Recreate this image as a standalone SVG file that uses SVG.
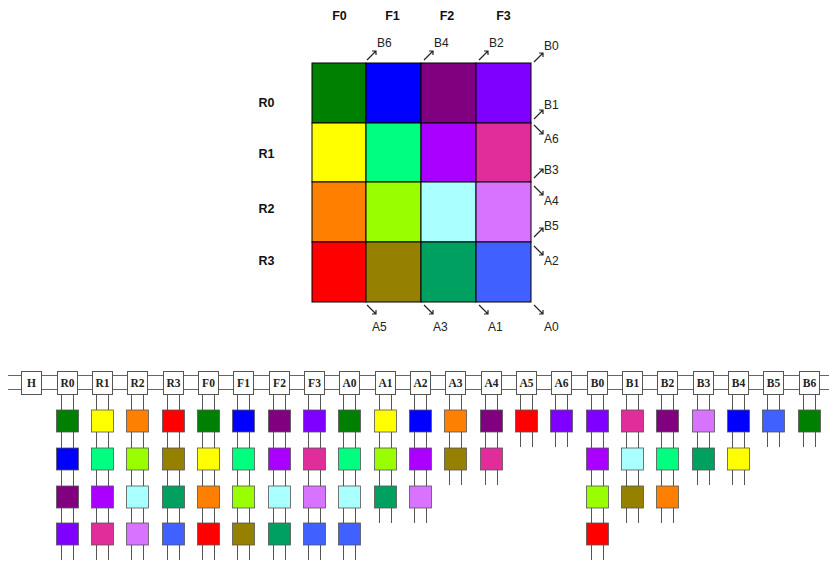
<svg xmlns="http://www.w3.org/2000/svg" xmlns:xlink="http://www.w3.org/1999/xlink" width="829" height="563" viewBox="0 0 829 563">
<style>
.bg{fill:#ffffff}
.cell{stroke:#000;stroke-width:1}
.hd{font-family:"Liberation Sans",Arial,sans-serif;font-weight:bold;font-size:12.5px;fill:#111;text-anchor:middle}
.lb{font-family:"Liberation Sans",Arial,sans-serif;font-size:12px;fill:#222}
.arr{fill:none;stroke:#222;stroke-width:1.2}
.bus{stroke:#666;stroke-width:1;fill:none}
.leg{stroke:#555;stroke-width:1;fill:none}
.box{fill:#fff;stroke:#555;stroke-width:1}
.bt{font-family:"Liberation Serif","Times New Roman",serif;font-weight:bold;font-size:11.5px;fill:#222;text-anchor:middle}
.sq{stroke:#555;stroke-width:0.8}
.g{fill:#008000}.b{fill:#0000ff}.p{fill:#800080}.v{fill:#8000ff}
.y{fill:#ffff00}.sg{fill:#00ff80}.v2{fill:#aa00ff}.pk{fill:#e02d9a}
.o{fill:#ff8000}.l{fill:#99ff00}.lc{fill:#aaffff}.lv{fill:#d873ff}
.r{fill:#ff0000}.ol{fill:#968000}.tg{fill:#00a060}.rb{fill:#4060ff}
</style>
<defs>
<path id="ne" class="arr" d="M0,9 L9,0 M5,0 H9 V4"/>
<path id="se" class="arr" d="M0,0 L9,9 M5,9 H9 V5"/>
</defs>
<rect class="bg" x="0" y="0" width="829" height="563"/>

<g id="matrix">
<rect class="cell g" x="312" y="63" width="54" height="60"/>
<rect class="cell b" x="366" y="63" width="55" height="60"/>
<rect class="cell p" x="421" y="63" width="55" height="60"/>
<rect class="cell v" x="476" y="63" width="55" height="60"/>
<rect class="cell y" x="312" y="123" width="54" height="59"/>
<rect class="cell sg" x="366" y="123" width="55" height="59"/>
<rect class="cell v2" x="421" y="123" width="55" height="59"/>
<rect class="cell pk" x="476" y="123" width="55" height="59"/>
<rect class="cell o" x="312" y="182" width="54" height="60"/>
<rect class="cell l" x="366" y="182" width="55" height="60"/>
<rect class="cell lc" x="421" y="182" width="55" height="60"/>
<rect class="cell lv" x="476" y="182" width="55" height="60"/>
<rect class="cell r" x="312" y="242" width="54" height="60"/>
<rect class="cell ol" x="366" y="242" width="55" height="60"/>
<rect class="cell tg" x="421" y="242" width="55" height="60"/>
<rect class="cell rb" x="476" y="242" width="55" height="60"/>
</g>

<g id="matrix-labels">
<text class="hd" x="339.5" y="20">F0</text>
<text class="hd" x="392.5" y="20">F1</text>
<text class="hd" x="447" y="20">F2</text>
<text class="hd" x="503.5" y="20">F3</text>
<text class="hd" x="266.5" y="107">R0</text>
<text class="hd" x="266.5" y="158">R1</text>
<text class="hd" x="266.5" y="213">R2</text>
<text class="hd" x="266.5" y="265">R3</text>
</g>

<g id="diagonal-labels">
<use xlink:href="#ne" x="367" y="51"/><text class="lb" x="377" y="47">B6</text>
<use xlink:href="#ne" x="424" y="51"/><text class="lb" x="434" y="47">B4</text>
<use xlink:href="#ne" x="479" y="51"/><text class="lb" x="489" y="47">B2</text>
<use xlink:href="#ne" x="534" y="53"/><text class="lb" x="544" y="50">B0</text>
<use xlink:href="#ne" x="534" y="110"/><text class="lb" x="544" y="109">B1</text>
<use xlink:href="#se" x="534" y="125"/><text class="lb" x="544" y="143">A6</text>
<use xlink:href="#ne" x="534" y="169"/><text class="lb" x="544" y="174">B3</text>
<use xlink:href="#se" x="534" y="186"/><text class="lb" x="544" y="205">A4</text>
<use xlink:href="#ne" x="534" y="228"/><text class="lb" x="544" y="230">B5</text>
<use xlink:href="#se" x="534" y="246"/><text class="lb" x="544" y="265">A2</text>
<use xlink:href="#se" x="367" y="305"/><text class="lb" x="372" y="331">A5</text>
<use xlink:href="#se" x="424" y="305"/><text class="lb" x="433" y="331">A3</text>
<use xlink:href="#se" x="479" y="305"/><text class="lb" x="488" y="331">A1</text>
<use xlink:href="#se" x="534" y="305"/><text class="lb" x="544" y="331">A0</text>
</g>

<g id="connectors">
<path class="bus" d="M8,375.5 H829 M8,389.5 H829"/>
<path class="leg" d="M61.5,394 V560 M73.5,394 V560"/>
<path class="leg" d="M96.5,394 V560 M108.5,394 V560"/>
<path class="leg" d="M131.5,394 V560 M143.5,394 V560"/>
<path class="leg" d="M167.5,394 V560 M179.5,394 V560"/>
<path class="leg" d="M202.5,394 V560 M214.5,394 V560"/>
<path class="leg" d="M237.5,394 V560 M249.5,394 V560"/>
<path class="leg" d="M273.5,394 V560 M285.5,394 V560"/>
<path class="leg" d="M308.5,394 V560 M320.5,394 V560"/>
<path class="leg" d="M343.5,394 V560 M355.5,394 V560"/>
<path class="leg" d="M379.5,394 V523 M391.5,394 V523"/>
<path class="leg" d="M414.5,394 V523 M426.5,394 V523"/>
<path class="leg" d="M449.5,394 V485 M461.5,394 V485"/>
<path class="leg" d="M485.5,394 V485 M497.5,394 V485"/>
<path class="leg" d="M520.5,394 V447 M532.5,394 V447"/>
<path class="leg" d="M555.5,394 V447 M567.5,394 V447"/>
<path class="leg" d="M591.5,394 V560 M603.5,394 V560"/>
<path class="leg" d="M626.5,394 V523 M638.5,394 V523"/>
<path class="leg" d="M661.5,394 V523 M673.5,394 V523"/>
<path class="leg" d="M697.5,394 V485 M709.5,394 V485"/>
<path class="leg" d="M732.5,394 V485 M744.5,394 V485"/>
<path class="leg" d="M767.5,394 V447 M779.5,394 V447"/>
<path class="leg" d="M803.5,394 V447 M815.5,394 V447"/>
</g>

<g id="node-H"><rect class="box" x="21.5" y="371.5" width="20" height="23"/><text class="bt" x="31.5" y="387">H</text></g>

<g id="node-R0" transform="translate(67.5,0)"><rect class="box" x="-10" y="371.5" width="20" height="23"/><text class="bt" x="0" y="387">R0</text>
<rect class="sq g" x="-11" y="410" width="22" height="22"/><rect class="sq b" x="-11" y="448" width="22" height="22"/><rect class="sq p" x="-11" y="486" width="22" height="22"/><rect class="sq v" x="-11" y="523" width="22" height="22"/></g>
<g id="node-R1" transform="translate(102.5,0)"><rect class="box" x="-10" y="371.5" width="20" height="23"/><text class="bt" x="0" y="387">R1</text>
<rect class="sq y" x="-11" y="410" width="22" height="22"/><rect class="sq sg" x="-11" y="448" width="22" height="22"/><rect class="sq v2" x="-11" y="486" width="22" height="22"/><rect class="sq pk" x="-11" y="523" width="22" height="22"/></g>
<g id="node-R2" transform="translate(137.5,0)"><rect class="box" x="-10" y="371.5" width="20" height="23"/><text class="bt" x="0" y="387">R2</text>
<rect class="sq o" x="-11" y="410" width="22" height="22"/><rect class="sq l" x="-11" y="448" width="22" height="22"/><rect class="sq lc" x="-11" y="486" width="22" height="22"/><rect class="sq lv" x="-11" y="523" width="22" height="22"/></g>
<g id="node-R3" transform="translate(173.5,0)"><rect class="box" x="-10" y="371.5" width="20" height="23"/><text class="bt" x="0" y="387">R3</text>
<rect class="sq r" x="-11" y="410" width="22" height="22"/><rect class="sq ol" x="-11" y="448" width="22" height="22"/><rect class="sq tg" x="-11" y="486" width="22" height="22"/><rect class="sq rb" x="-11" y="523" width="22" height="22"/></g>
<g id="node-F0" transform="translate(208.5,0)"><rect class="box" x="-10" y="371.5" width="20" height="23"/><text class="bt" x="0" y="387">F0</text>
<rect class="sq g" x="-11" y="410" width="22" height="22"/><rect class="sq y" x="-11" y="448" width="22" height="22"/><rect class="sq o" x="-11" y="486" width="22" height="22"/><rect class="sq r" x="-11" y="523" width="22" height="22"/></g>
<g id="node-F1" transform="translate(243.5,0)"><rect class="box" x="-10" y="371.5" width="20" height="23"/><text class="bt" x="0" y="387">F1</text>
<rect class="sq b" x="-11" y="410" width="22" height="22"/><rect class="sq sg" x="-11" y="448" width="22" height="22"/><rect class="sq l" x="-11" y="486" width="22" height="22"/><rect class="sq ol" x="-11" y="523" width="22" height="22"/></g>
<g id="node-F2" transform="translate(279.5,0)"><rect class="box" x="-10" y="371.5" width="20" height="23"/><text class="bt" x="0" y="387">F2</text>
<rect class="sq p" x="-11" y="410" width="22" height="22"/><rect class="sq v2" x="-11" y="448" width="22" height="22"/><rect class="sq lc" x="-11" y="486" width="22" height="22"/><rect class="sq tg" x="-11" y="523" width="22" height="22"/></g>
<g id="node-F3" transform="translate(314.5,0)"><rect class="box" x="-10" y="371.5" width="20" height="23"/><text class="bt" x="0" y="387">F3</text>
<rect class="sq v" x="-11" y="410" width="22" height="22"/><rect class="sq pk" x="-11" y="448" width="22" height="22"/><rect class="sq lv" x="-11" y="486" width="22" height="22"/><rect class="sq rb" x="-11" y="523" width="22" height="22"/></g>
<g id="node-A0" transform="translate(349.5,0)"><rect class="box" x="-10" y="371.5" width="20" height="23"/><text class="bt" x="0" y="387">A0</text>
<rect class="sq g" x="-11" y="410" width="22" height="22"/><rect class="sq sg" x="-11" y="448" width="22" height="22"/><rect class="sq lc" x="-11" y="486" width="22" height="22"/><rect class="sq rb" x="-11" y="523" width="22" height="22"/></g>
<g id="node-A1" transform="translate(385.5,0)"><rect class="box" x="-10" y="371.5" width="20" height="23"/><text class="bt" x="0" y="387">A1</text>
<rect class="sq y" x="-11" y="410" width="22" height="22"/><rect class="sq l" x="-11" y="448" width="22" height="22"/><rect class="sq tg" x="-11" y="486" width="22" height="22"/></g>
<g id="node-A2" transform="translate(420.5,0)"><rect class="box" x="-10" y="371.5" width="20" height="23"/><text class="bt" x="0" y="387">A2</text>
<rect class="sq b" x="-11" y="410" width="22" height="22"/><rect class="sq v2" x="-11" y="448" width="22" height="22"/><rect class="sq lv" x="-11" y="486" width="22" height="22"/></g>
<g id="node-A3" transform="translate(455.5,0)"><rect class="box" x="-10" y="371.5" width="20" height="23"/><text class="bt" x="0" y="387">A3</text>
<rect class="sq o" x="-11" y="410" width="22" height="22"/><rect class="sq ol" x="-11" y="448" width="22" height="22"/></g>
<g id="node-A4" transform="translate(491.5,0)"><rect class="box" x="-10" y="371.5" width="20" height="23"/><text class="bt" x="0" y="387">A4</text>
<rect class="sq p" x="-11" y="410" width="22" height="22"/><rect class="sq pk" x="-11" y="448" width="22" height="22"/></g>
<g id="node-A5" transform="translate(526.5,0)"><rect class="box" x="-10" y="371.5" width="20" height="23"/><text class="bt" x="0" y="387">A5</text>
<rect class="sq r" x="-11" y="410" width="22" height="22"/></g>
<g id="node-A6" transform="translate(561.5,0)"><rect class="box" x="-10" y="371.5" width="20" height="23"/><text class="bt" x="0" y="387">A6</text>
<rect class="sq v" x="-11" y="410" width="22" height="22"/></g>
<g id="node-B0" transform="translate(597.5,0)"><rect class="box" x="-10" y="371.5" width="20" height="23"/><text class="bt" x="0" y="387">B0</text>
<rect class="sq v" x="-11" y="410" width="22" height="22"/><rect class="sq v2" x="-11" y="448" width="22" height="22"/><rect class="sq l" x="-11" y="486" width="22" height="22"/><rect class="sq r" x="-11" y="523" width="22" height="22"/></g>
<g id="node-B1" transform="translate(632.5,0)"><rect class="box" x="-10" y="371.5" width="20" height="23"/><text class="bt" x="0" y="387">B1</text>
<rect class="sq pk" x="-11" y="410" width="22" height="22"/><rect class="sq lc" x="-11" y="448" width="22" height="22"/><rect class="sq ol" x="-11" y="486" width="22" height="22"/></g>
<g id="node-B2" transform="translate(667.5,0)"><rect class="box" x="-10" y="371.5" width="20" height="23"/><text class="bt" x="0" y="387">B2</text>
<rect class="sq p" x="-11" y="410" width="22" height="22"/><rect class="sq sg" x="-11" y="448" width="22" height="22"/><rect class="sq o" x="-11" y="486" width="22" height="22"/></g>
<g id="node-B3" transform="translate(703.5,0)"><rect class="box" x="-10" y="371.5" width="20" height="23"/><text class="bt" x="0" y="387">B3</text>
<rect class="sq lv" x="-11" y="410" width="22" height="22"/><rect class="sq tg" x="-11" y="448" width="22" height="22"/></g>
<g id="node-B4" transform="translate(738.5,0)"><rect class="box" x="-10" y="371.5" width="20" height="23"/><text class="bt" x="0" y="387">B4</text>
<rect class="sq b" x="-11" y="410" width="22" height="22"/><rect class="sq y" x="-11" y="448" width="22" height="22"/></g>
<g id="node-B5" transform="translate(773.5,0)"><rect class="box" x="-10" y="371.5" width="20" height="23"/><text class="bt" x="0" y="387">B5</text>
<rect class="sq rb" x="-11" y="410" width="22" height="22"/></g>
<g id="node-B6" transform="translate(809.5,0)"><rect class="box" x="-10" y="371.5" width="20" height="23"/><text class="bt" x="0" y="387">B6</text>
<rect class="sq g" x="-11" y="410" width="22" height="22"/></g>
</svg>
